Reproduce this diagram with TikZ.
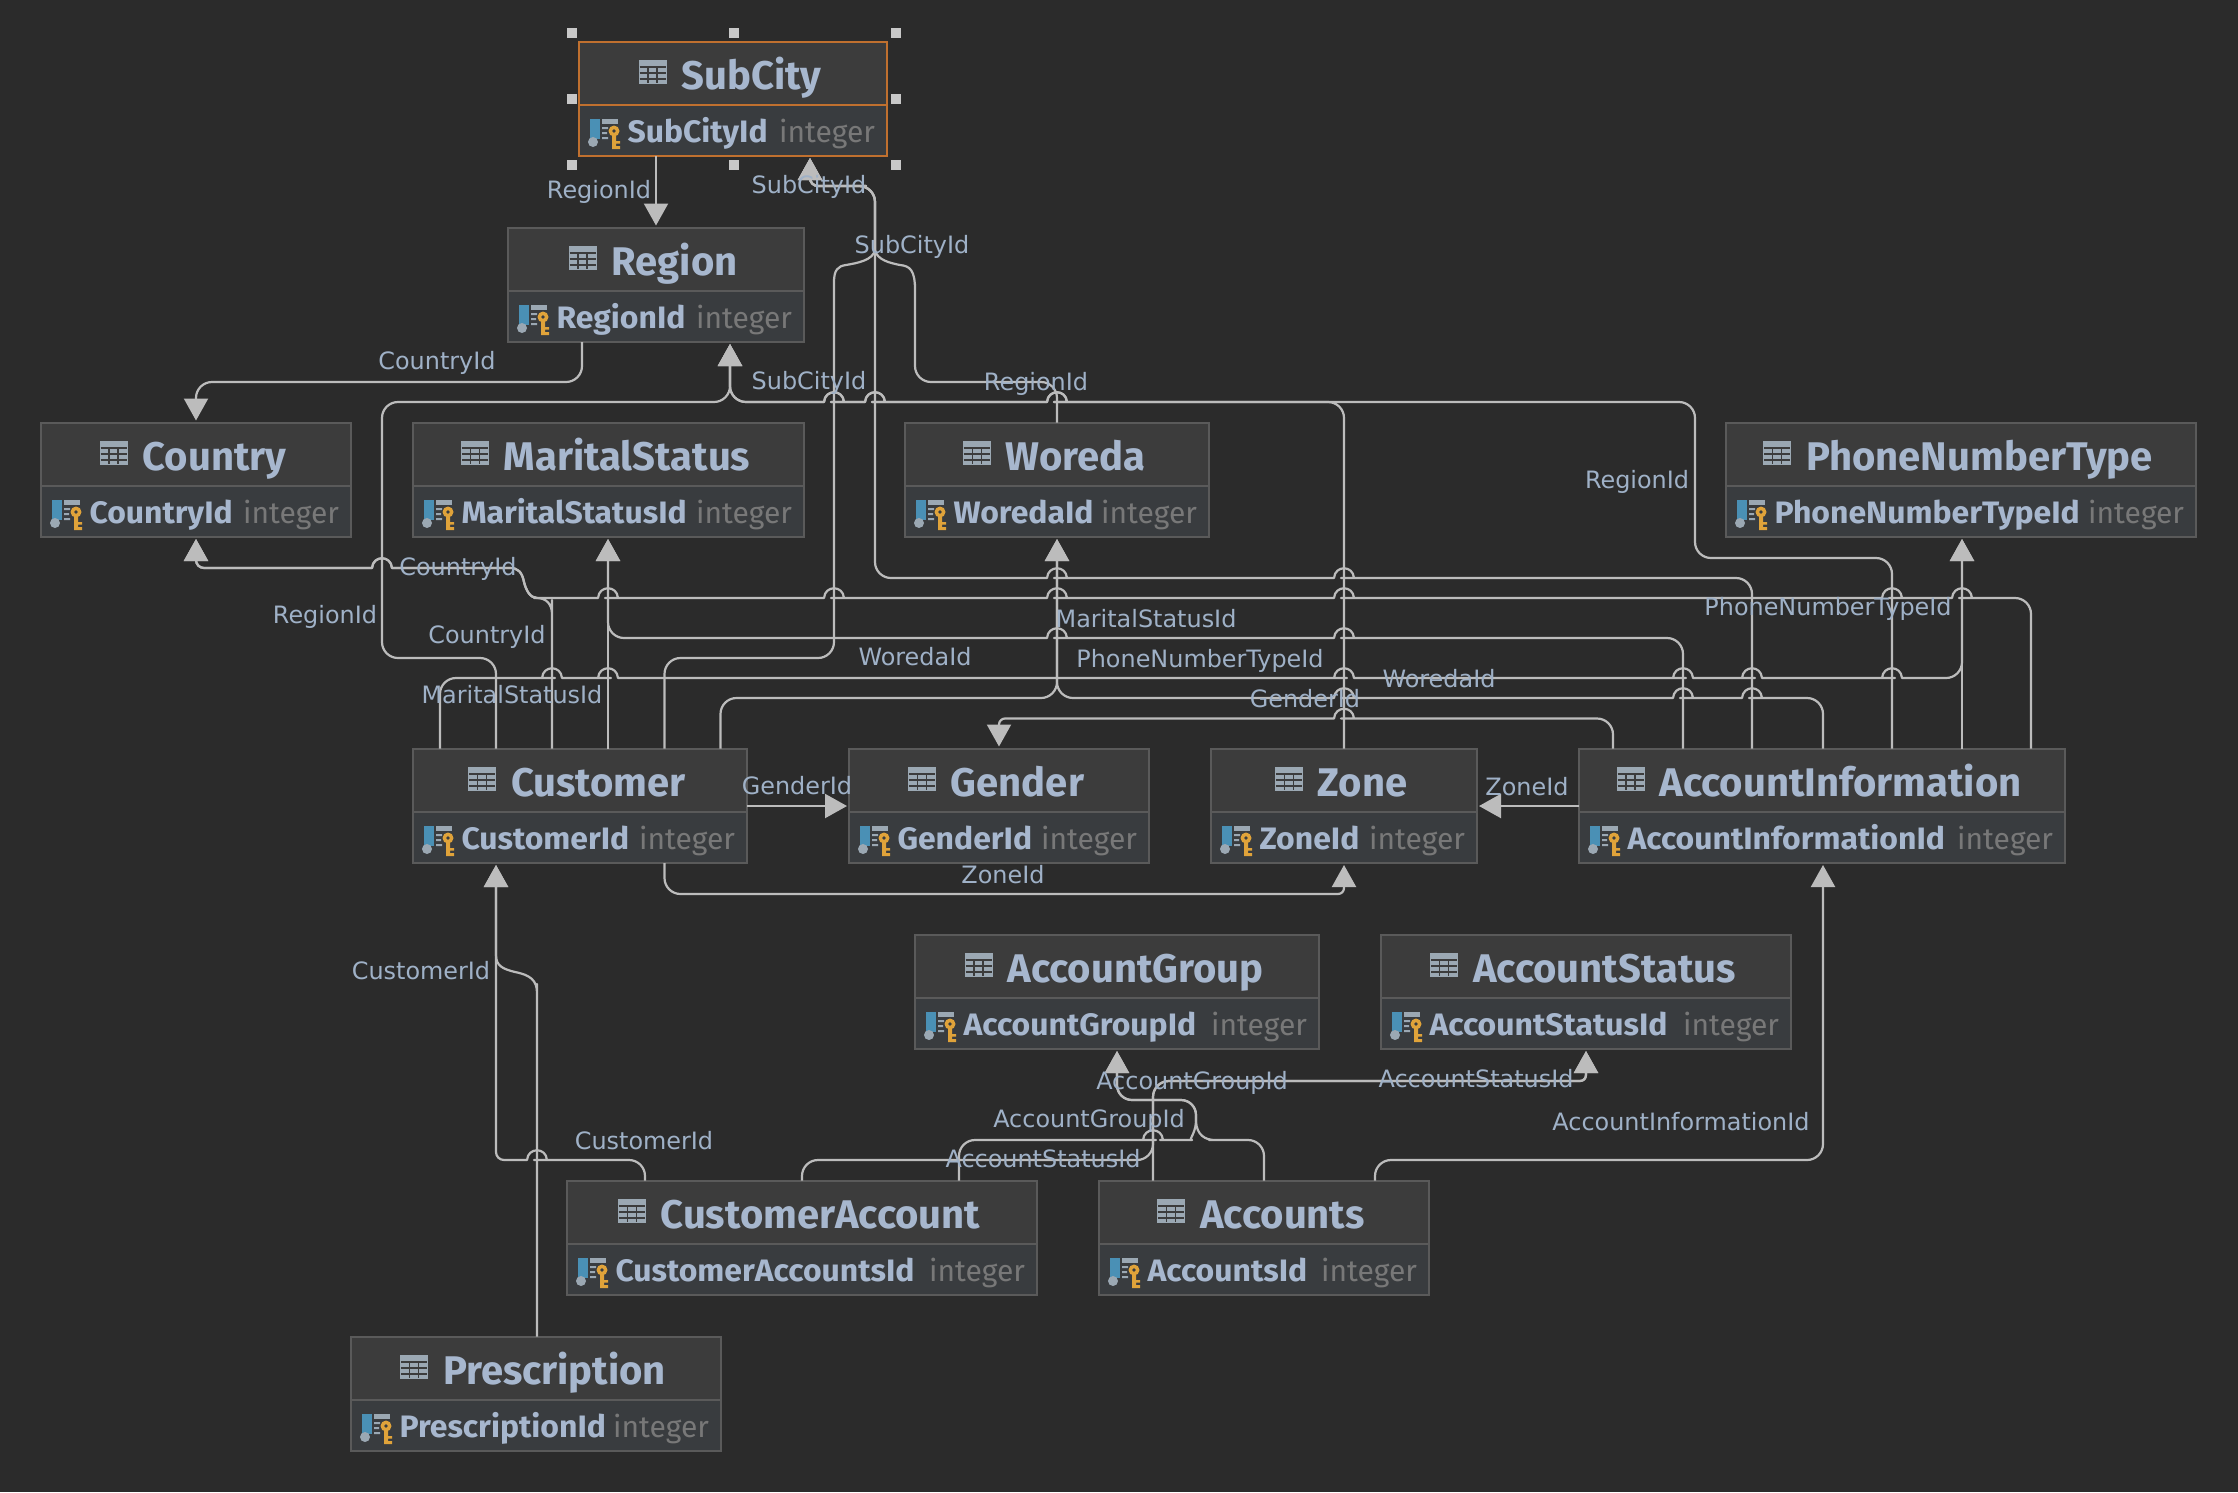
\documentclass[tikz,border=0pt]{standalone}
\usepackage{fontspec}
\usetikzlibrary{arrows.meta,calc}
\setmainfont{DejaVu Sans}
\newfontfamily\uifont{Fira Sans}
\newfontfamily\uicolfont{Fira Sans}[FakeStretch=1.03]
\newcommand\tfont{\uifont\bfseries\fontsize{40}{40}\selectfont}
\newcommand\cfont{\uicolfont\bfseries\fontsize{31}{31}\selectfont}
\newcommand\ifont{\uifont\fontsize{30}{30}\selectfont}
\newcommand\lfont{\fontsize{23.9}{23.9}\selectfont}
\definecolor{bgc}{HTML}{2B2B2B}
\definecolor{headc}{HTML}{3C3C3C}
\definecolor{colc}{HTML}{393C3F}
\definecolor{borderc}{HTML}{5A5A5A}
\definecolor{divc}{HTML}{6A6A6A}
\definecolor{lblc}{HTML}{9FB1C7}
\definecolor{titc}{HTML}{A7B7CE}
\definecolor{typec}{HTML}{787878}
\definecolor{linec}{HTML}{B0B0B0}
\definecolor{tipc}{HTML}{BCBCBC}
\definecolor{iconc}{HTML}{9BA8B3}
\definecolor{bluec}{HTML}{4A90B5}
\definecolor{keyc}{HTML}{E0A33A}
\definecolor{selc}{HTML}{C0702F}
\definecolor{handc}{HTML}{C8C8C8}
\tikzset{
  fkline/.style={draw=linec,line width=2.2pt,rounded corners=16pt,line join=round},
  fk/.style={fkline,-{Triangle[length=22pt,width=24pt,fill=tipc]},shorten >=2pt,tipc},
  lbl/.style={font=\lfont,text=lblc,inner sep=0pt,text height=17pt,text depth=0pt,anchor=center},
  frame/.style={draw=#1,fill=headc,line width=2pt,rectangle,inner sep=0pt,outer sep=0pt,anchor=north west,minimum height=114.5pt},
  txt/.style={inner sep=0pt,outer sep=0pt}
}
\def\JL#1#2{-- ({#1+13},#2) [sharp corners] -- ({#1+10},#2) .. controls ({#1+9},{#2-13}) and ({#1-9},{#2-13}) .. ({#1-10},#2) -- ({#1-13},#2) [rounded corners=16pt] }
\def\JR#1#2{-- ({#1-13},#2) [sharp corners] -- ({#1-10},#2) .. controls ({#1-9},{#2-13}) and ({#1+9},{#2-13}) .. ({#1+10},#2) -- ({#1+13},#2) [rounded corners=16pt] }
\def\SCtop{-- (875,186) -- (850,186) [rounded corners=8pt] -- (810,186) -- (subcity.south -| 810,0)}
\def\AGtop{-- (1196,1118) [rounded corners=15pt] -- (1196,1100) -- (1117,1100) -- (accountgroup.south -| 1117,0)}
\def\CtyTail{.. controls (530,598) and (526,590) .. (524,582) .. controls (522,572) and (518,568) .. (510,568) \JL{382}{568} -- (230,568) [rounded corners=8pt] -- (196,568) -- (country.south -| 196,0)}
\newcommand\tbl[7][borderc]{%
  \pgfmathsetmacro\wid{#3-#2}%
  \pgfmathsetmacro\xmid{(#2+#3)/2}%
  \node[frame=#1,minimum width=\wid pt] (#5) at (#2,#4+0.5) {};
  \fill[colc] ({#2+1},{#4+65}) rectangle ({#3-1},{#4+114});
  \draw[#1,line width=2pt] (#2,{#4+64}) -- (#3,{#4+64});
  \node[txt,font=\tfont,text=titc,anchor=base] (#5-t) at ({\xmid+18.5},{#4+48.5}) {#6};
  \begin{scope}[shift={($(#5-t.base west)+(-43,-29.5)$)}]
    \fill[iconc] (0,0) rectangle (28,24);
    \draw[headc,line width=1.3pt] (1,7) -- (27,7) (1,13) -- (27,13) (1,19) -- (27,19) (9.5,7) -- (9.5,23) (18.5,7) -- (18.5,23);
  \end{scope}
  \begin{scope}[shift={(#2,#4)}]
    \fill[bluec] (11,78) rectangle (21,98);
    \fill[iconc] (14,101) circle (5);
    \fill[iconc] (23,78) rectangle (39,83);
    \fill[iconc] (23,86) rectangle (29,88) (23,91) rectangle (28,93) (23,96) rectangle (29,98);
    \fill[keyc] (35,90) circle (5.5);
    \fill[colc] (35,90) circle (1.8);
    \fill[keyc] (33,94) rectangle (37,108) (37,100) rectangle (41,102.5) (37,105) rectangle (41,108);
  \end{scope}
  \node[txt,font=\cfont,text=titc,anchor=base west] (#5-c) at ({#2+48.5},{#4+101}) {#7};
  \node[txt,font=\ifont,text=typec,anchor=base east] (#5-i) at ({#3-12},{#4+101}) {integer};
}
\begin{document}
\begin{tikzpicture}[x=1pt,y=-1pt]
\useasboundingbox (0,0) rectangle (2238,1492);
\fill[bgc] (0,0) rectangle (2238,1492);
% tables
\tbl[selc]{579}{887}{41}{subcity}{SubCity}{SubCityId}
\tbl{508}{804}{227}{region}{Region}{RegionId}
\tbl{41}{351}{422}{country}{Country}{CountryId}
\tbl{413}{804}{422}{maritalstatus}{MaritalStatus}{MaritalStatusId}
\tbl{905}{1209}{422}{woreda}{Woreda}{WoredaId}
\tbl{1726}{2196}{422}{phone}{PhoneNumberType}{PhoneNumberTypeId}
\tbl{413}{747}{748}{customer}{Customer}{CustomerId}
\tbl{849}{1149}{748}{gender}{Gender}{GenderId}
\tbl{1211}{1477}{748}{zone}{Zone}{ZoneId}
\tbl{1579}{2065}{748}{accinfo}{AccountInformation}{AccountInformationId}
\tbl{915}{1319}{934}{accountgroup}{AccountGroup}{AccountGroupId}
\tbl{1381}{1791}{934}{accountstatus}{AccountStatus}{AccountStatusId}
\tbl{567}{1037}{1180}{customeraccount}{CustomerAccount}{CustomerAccountsId}
\tbl{1099}{1429}{1180}{accounts}{Accounts}{AccountsId}
\tbl{351}{721}{1336}{prescription}{Prescription}{PrescriptionId}
% selection handles
\foreach \hx in {572,734,896} \foreach \hy in {33,99,165} {
  \ifnum\hx=734 \ifnum\hy=99 \else \fill[handc] ({\hx-5},{\hy-5}) rectangle ({\hx+5},{\hy+5}); \fi
  \else \fill[handc] ({\hx-5},{\hy-5}) rectangle ({\hx+5},{\hy+5}); \fi
}
% connectors
\draw[fk] (subcity.south -| 656,0) -- (region.north -| 656,0);
\draw[fk] (region.south -| 582,0) -- (582,382) -- (196,382) -- (country.north -| 196,0);
\draw[fk] (woreda.north -| 1057,0) -- (1057,382) -- (915,382) -- (915,300) [sharp corners] -- (915,290) .. controls (915,270) and (910,266) .. (900,265) .. controls (890,263) and (877,260) .. (875,250) -- (875,240) [rounded corners=16pt] \SCtop;
\draw[fk] (customer.north -| 664.5,0) -- (664.5,658) -- (834,658) -- (834,295) [sharp corners] -- (834,282) .. controls (834,270) and (838,266) .. (846,265) .. controls (858,263) and (873,260) .. (875,250) -- (875,240) [rounded corners=16pt] \SCtop;
\draw[fk] (accinfo.north -| 1752,0) -- (1752,578) \JL{1344}{578} \JL{1057}{578} -- (875,578) \SCtop;
\draw[fk] (customer.north -| 496,0) -- (496,658) -- (382,658) -- (382,402) -- (730,402) -- (region.south -| 730,0);
\draw[fk] (zone.north -| 1344,0) -- (1344,402) \JL{1057}{402} \JL{875}{402} \JL{834}{402} -- (730,402) -- (region.south -| 730,0);
\draw[fk] (accinfo.north -| 1892,0) -- (1892,558) -- (1695,558) -- (1695,402) \JL{1057}{402} \JL{875}{402} \JL{834}{402} -- (730,402) -- (region.south -| 730,0);
\draw[fk] (customer.north -| 552,0) -- (552,616) [sharp corners] -- (552,614) .. controls (552,604) and (546,598) .. (537,598) \CtyTail;
\draw[fk] (accinfo.north -| 2031,0) -- (2031,598) \JL{1962}{598} \JL{1892}{598} \JL{1344}{598} \JL{1057}{598} \JL{834}{598} \JL{608}{598} -- (550,598) [sharp corners] -- (537,598) \CtyTail;
\draw[fk] (customer.north -| 608,0) -- (maritalstatus.south -| 608,0);
\draw[fk] (accinfo.north -| 1683,0) -- (1683,638) \JL{1344}{638} \JL{1057}{638} -- (608,638) -- (maritalstatus.south -| 608,0);
\draw[fk] (customer.north -| 440,0) -- (440,678) \JR{552}{678} \JR{608}{678} \JR{1344}{678} \JR{1683}{678} \JR{1752}{678} \JR{1892}{678} -- (1962,678) -- (phone.south -| 1962,0);
\draw[fk] (accinfo.north -| 1962,0) -- (phone.south -| 1962,0);
\draw[fk] (customer.north -| 720.5,0) -- (720.5,698) -- (1057,698) -- (woreda.south -| 1057,0);
\draw[fk] (accinfo.north -| 1823,0) -- (1823,698) \JL{1752}{698} \JL{1683}{698} \JL{1344}{698} -- (1057,698) -- (woreda.south -| 1057,0);
\draw[fk] (accinfo.north -| 1613,0) -- (1613,718.5) \JL{1344}{718.5} -- (1030,718.5) [rounded corners=6pt] -- (999,718.5) -- (gender.north -| 999,0);
\draw[fk] (customer.east |- 0,806) -- (gender.west |- 0,806);
\draw[fk] (accinfo.west |- 0,806) -- (zone.east |- 0,806);
\draw[fk] (customer.south -| 664.5,0) -- (664.5,894) -- (1320,894) [rounded corners=6pt] -- (1344,894) -- (zone.south -| 1344,0);
\draw[fk] (prescription.north -| 537,0) -- (537,1000) [sharp corners] -- (537,993) .. controls (537,980) and (530,975) .. (515,972) .. controls (503,969) and (496,966) .. (496,955) -- (496,940) [rounded corners=16pt] -- (customer.south -| 496,0);
\draw[fk] (customeraccount.north -| 645,0) -- (645,1160) \JL{537}{1160} [rounded corners=8pt] -- (496,1160) -- (496,1100) [rounded corners=16pt] -- (customer.south -| 496,0);
\draw[fk] (accounts.north -| 1264,0) -- (1264,1140) -- (1225,1140) [sharp corners] -- (1215,1140) .. controls (1205,1140) and (1197,1135) .. (1196,1122) \AGtop;
\draw[fk] (customeraccount.north -| 959,0) -- (959,1140) \JR{1153}{1140} -- (1176,1140) [sharp corners] .. controls (1188,1140) and (1195,1135) .. (1196,1122) \AGtop;
\draw[fk] (accounts.north -| 1153,0) -- (1153,1081) -- (1560,1081) [rounded corners=6pt] -- (1586,1081) -- (accountstatus.south -| 1586,0);
\draw[fk] (customeraccount.north -| 802,0) -- (802,1160) -- (1153,1160) -- (1153,1081) -- (1560,1081) [rounded corners=6pt] -- (1586,1081) -- (accountstatus.south -| 1586,0);
\draw[fk] (accounts.north -| 1375,0) -- (1375,1160) -- (1823,1160) -- (accinfo.south -| 1823,0);
% labels
\node[lbl] (l1) at (599,190) {RegionId};
\node[lbl] (l2) at (809,185) {SubCityId};
\node[lbl] (l3) at (912,245) {SubCityId};
\node[lbl] (l4) at (437,361) {CountryId};
\node[lbl] (l5) at (809,381) {SubCityId};
\node[lbl] (l6) at (1036,382) {RegionId};
\node[lbl] (l7) at (1637,480) {RegionId};
\node[lbl] (l8) at (458,567) {CountryId};
\node[lbl] (l9) at (325,615) {RegionId};
\node[lbl] (l10) at (487,635) {CountryId};
\node[lbl] (l11) at (1146,619) {MaritalStatusId};
\node[lbl] (l12) at (1200,659) {PhoneNumberTypeId};
\node[lbl] (l13) at (915,657) {WoredaId};
\node[lbl] (l14) at (1828,607) {PhoneNumberTypeId};
\node[lbl] (l15) at (512,695) {MaritalStatusId};
\node[lbl] (l16) at (1305,699) {GenderId};
\node[lbl] (l17) at (1439,679) {WoredaId};
\node[lbl] (l18) at (797,786) {GenderId};
\node[lbl] (l19) at (1527,787) {ZoneId};
\node[lbl] (l20) at (1003,875) {ZoneId};
\node[lbl] (l21) at (421,971) {CustomerId};
\node[lbl] (l22) at (644,1141) {CustomerId};
\node[lbl] (l23) at (1192,1081) {AccountGroupId};
\node[lbl] (l24) at (1476,1079) {AccountStatusId};
\node[lbl] (l25) at (1089,1119) {AccountGroupId};
\node[lbl] (l26) at (1681,1122) {AccountInformationId};
\node[lbl] (l27) at (1043,1159) {AccountStatusId};
\end{tikzpicture}
\end{document}
